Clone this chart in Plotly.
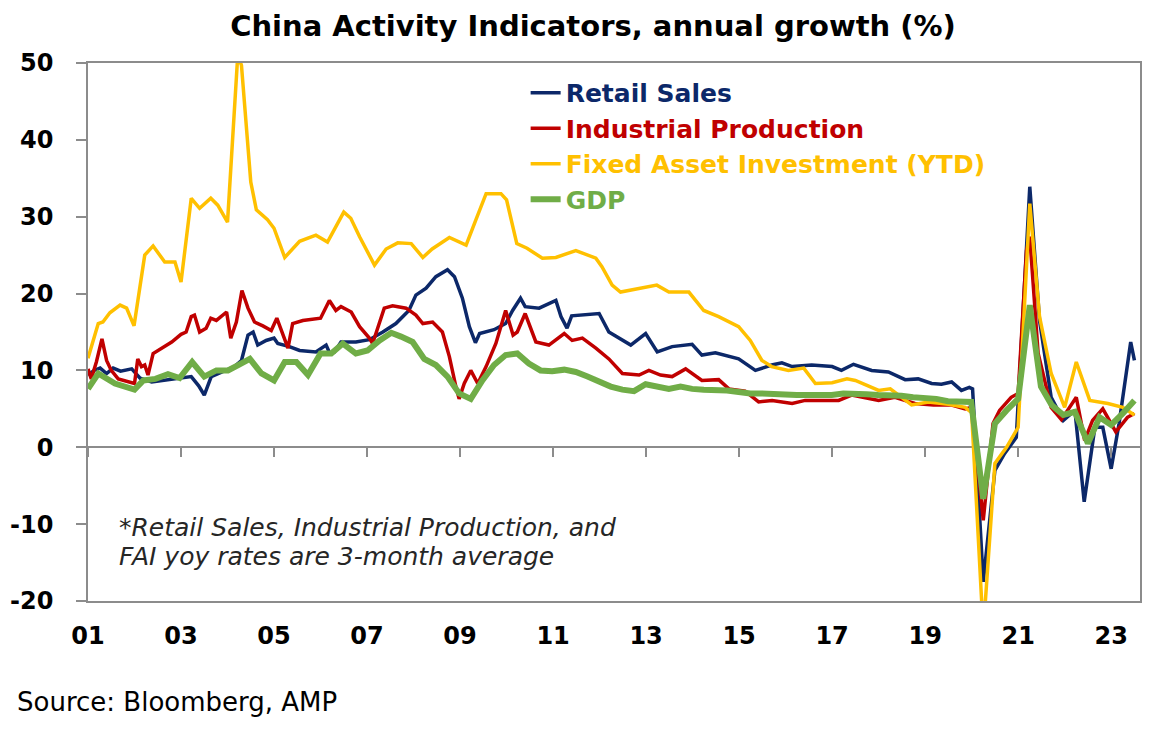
"""China activity indicators, annual growth (%)."""
import plotly.graph_objects as go

FONT = "DejaVu Sans"

# decimal years
retail_x = [
    2001.0, 2001.13, 2001.26, 2001.4, 2001.54, 2001.7, 2001.94, 2002.12, 2002.37, 2002.65,
    2002.94, 2003.22, 2003.38, 2003.5, 2003.65, 2003.94, 2004.15, 2004.3, 2004.44, 2004.55,
    2004.65, 2004.83, 2005.0, 2005.08, 2005.33, 2005.55, 2005.9, 2006.12, 2006.2, 2006.3,
    2006.44, 2006.76, 2007.05, 2007.34, 2007.62, 2007.9, 2008.05, 2008.27, 2008.48, 2008.73,
    2008.88, 2009.05, 2009.2, 2009.33, 2009.42, 2009.73, 2009.98, 2010.13, 2010.3, 2010.4,
    2010.7, 2011.06, 2011.17, 2011.3, 2011.4, 2011.99, 2012.2, 2012.67, 2012.99, 2013.24,
    2013.56, 2013.99, 2014.2, 2014.49, 2014.99, 2015.35, 2015.7, 2015.92, 2016.14, 2016.56,
    2017.0, 2017.2, 2017.46, 2017.85, 2018.21, 2018.57, 2018.85, 2019.14, 2019.35, 2019.57,
    2019.78, 2019.95, 2020.02, 2020.25, 2020.5, 2020.71, 2020.96, 2021.25, 2021.46, 2021.71,
    2021.97, 2022.22, 2022.42, 2022.65, 2022.82, 2023.0, 2023.17, 2023.42, 2023.5,
]
retail_y = [
    9.4, 10.0, 10.3, 9.6, 10.3, 9.9, 10.2, 9.0, 8.5, 8.7,
    9.0, 9.2, 8.0, 6.8, 9.2, 10.0, 10.5, 11.3, 14.6, 15.0,
    13.3, 13.9, 14.2, 13.5, 13.1, 12.6, 12.4, 13.3, 12.2, 12.4,
    13.7, 13.7, 14.0, 15.0, 16.1, 17.8, 19.8, 20.7, 22.2, 23.1,
    22.2, 19.4, 15.7, 13.6, 14.8, 15.3, 16.1, 17.8, 19.4, 18.3,
    18.1, 19.1, 17.0, 15.5, 17.1, 17.4, 15.0, 13.3, 14.8, 12.4,
    13.1, 13.4, 12.0, 12.3, 11.5, 10.0, 10.7, 11.0, 10.5, 10.7,
    10.5, 10.0, 10.8, 10.0, 9.8, 8.8, 8.9, 8.3, 8.2, 8.5,
    7.4, 7.8, 7.6, -17.5, -3.0, -0.8, 1.3, 33.9, 16.5, 6.5,
    3.5, 4.8, -7.1, 2.6, 2.6, -2.8, 3.1, 13.7, 11.3,
]

indprod_x = [
    2001.0, 2001.07, 2001.18, 2001.3, 2001.4, 2001.5, 2001.65, 2001.87, 2002.0, 2002.07,
    2002.15, 2002.22, 2002.29, 2002.4, 2002.58, 2002.8, 2003.0, 2003.11, 2003.22, 2003.29,
    2003.4, 2003.54, 2003.64, 2003.76, 2003.98, 2004.07, 2004.19, 2004.31, 2004.44, 2004.58,
    2004.76, 2004.94, 2005.06, 2005.19, 2005.3, 2005.4, 2005.62, 2006.0, 2006.19, 2006.33,
    2006.44, 2006.66, 2006.84, 2007.05, 2007.12, 2007.37, 2007.55, 2007.84, 2008.05, 2008.2,
    2008.41, 2008.62, 2008.77, 2008.91, 2008.98, 2009.09, 2009.23, 2009.38, 2009.56, 2009.77,
    2009.98, 2010.14, 2010.23, 2010.4, 2010.63, 2010.91, 2011.24, 2011.41, 2011.63, 2011.92,
    2012.2, 2012.49, 2012.85, 2013.06, 2013.31, 2013.56, 2013.85, 2014.2, 2014.56, 2014.78,
    2015.13, 2015.42, 2015.71, 2016.14, 2016.42, 2016.78, 2017.14, 2017.42, 2018.0, 2018.35,
    2018.78, 2019.18, 2019.57, 2019.86, 2020.0, 2020.25, 2020.46, 2020.6, 2020.85, 2021.0,
    2021.18, 2021.25, 2021.43, 2021.71, 2021.93, 2022.25, 2022.43, 2022.6, 2022.82, 2023.1,
    2023.35, 2023.5,
]
indprod_y = [
    10.2, 8.9, 11.1, 14.1, 11.3, 10.0, 8.9, 8.5, 8.3, 11.5,
    10.5, 10.7, 9.4, 12.2, 12.9, 13.7, 14.7, 15.0, 17.0, 17.2,
    15.0, 15.5, 16.8, 16.5, 17.6, 14.2, 16.3, 20.4, 18.1, 16.3,
    15.8, 15.2, 16.8, 14.8, 12.9, 16.1, 16.5, 16.8, 19.1, 17.8,
    18.3, 17.6, 15.7, 14.2, 13.5, 18.1, 18.4, 18.1, 17.2, 16.1,
    16.3, 15.0, 11.8, 7.9, 6.3, 8.3, 10.0, 8.3, 10.5, 13.5,
    17.8, 14.6, 15.0, 17.4, 13.7, 13.3, 14.8, 13.9, 14.2, 12.9,
    11.5, 9.6, 9.4, 10.0, 9.4, 9.2, 10.2, 8.7, 8.8, 7.6,
    7.3, 5.9, 6.1, 5.7, 6.1, 6.1, 6.1, 6.8, 6.1, 6.5,
    5.7, 5.5, 5.5, 5.0, 5.2, -9.5, 3.1, 4.8, 6.5, 7.0,
    25.6, 27.4, 12.2, 5.2, 3.6, 6.5, 0.9, 3.5, 5.0, 2.0,
    3.9, 4.4,
]

fai_x = [
    2001.0, 2001.22, 2001.32, 2001.47, 2001.69, 2001.83, 2001.99, 2002.22, 2002.4, 2002.65,
    2002.87, 2003.0, 2003.22, 2003.4, 2003.64, 2003.79, 2004.0, 2004.22, 2004.3, 2004.5,
    2004.62, 2004.86, 2005.0, 2005.23, 2005.55, 2005.9, 2006.15, 2006.5, 2006.65, 2006.84,
    2007.16, 2007.41, 2007.66, 2007.95, 2008.2, 2008.4, 2008.77, 2009.13, 2009.34, 2009.56,
    2009.88, 2010.0, 2010.22, 2010.44, 2010.77, 2011.06, 2011.49, 2011.92, 2012.05, 2012.27,
    2012.45, 2012.85, 2013.23, 2013.49, 2013.92, 2014.24, 2014.56, 2014.99, 2015.24, 2015.49,
    2015.7, 2016.06, 2016.39, 2016.64, 2017.0, 2017.32, 2017.5, 2018.0, 2018.25, 2018.71,
    2019.07, 2019.5, 2019.86, 2020.0, 2020.25, 2020.5, 2020.75, 2021.0, 2021.25, 2021.46,
    2021.71, 2022.0, 2022.25, 2022.54, 2022.93, 2023.25, 2023.5,
]
fai_y = [
    11.6, 16.1, 16.3, 17.5, 18.5, 18.1, 15.8, 25.0, 26.2, 24.1,
    24.1, 21.5, 32.4, 31.1, 32.4, 31.5, 29.3, 51.0, 49.7, 34.5,
    30.9, 29.6, 28.5, 24.7, 26.8, 27.6, 26.7, 30.6, 29.8, 27.4,
    23.7, 25.8, 26.6, 26.5, 24.7, 25.8, 27.3, 26.3, 29.6, 33.0,
    33.0, 32.2, 26.5, 25.9, 24.6, 24.7, 25.6, 24.6, 23.5, 21.1,
    20.2, 20.7, 21.1, 20.2, 20.2, 17.8, 17.0, 15.7, 13.9, 11.3,
    10.5, 10.0, 10.3, 8.3, 8.4, 8.9, 8.7, 7.4, 7.6, 5.5,
    5.9, 5.6, 5.2, 4.5, -24.0, -2.1, 0.0, 2.6, 31.7, 17.0,
    9.6, 5.2, 11.1, 6.1, 5.7, 5.2, 4.2,
]

gdp_x = [
    2001.0, 2001.22, 2001.58, 2002.0, 2002.19, 2002.45, 2002.72, 2002.97, 2003.24, 2003.5,
    2003.76, 2004.01, 2004.23, 2004.48, 2004.73, 2005.0, 2005.23, 2005.48, 2005.73, 2006.0,
    2006.23, 2006.48, 2006.76, 2007.01, 2007.27, 2007.52, 2007.73, 2007.98, 2008.23, 2008.48,
    2008.73, 2008.98, 2009.23, 2009.48, 2009.73, 2009.98, 2010.23, 2010.48, 2010.73, 2010.98,
    2011.24, 2011.49, 2011.74, 2011.99, 2012.24, 2012.49, 2012.74, 2012.99, 2013.24, 2013.49,
    2013.74, 2013.99, 2014.24, 2014.49, 2014.74, 2014.99, 2015.24, 2015.49, 2015.74, 2015.99,
    2016.24, 2016.49, 2016.74, 2016.99, 2017.24, 2017.49, 2017.74, 2017.99, 2018.24, 2018.49,
    2018.74, 2018.99, 2019.24, 2019.49, 2019.74, 2019.99, 2020.25, 2020.5, 2020.75, 2021.0,
    2021.25, 2021.49, 2021.72, 2021.97, 2022.22, 2022.5, 2022.75, 2023.0, 2023.25, 2023.5,
]
gdp_y = [
    7.6, 9.6, 8.3, 7.5, 8.7, 8.9, 9.5, 9.0, 11.1, 9.2,
    10.0, 10.0, 10.7, 11.5, 9.6, 8.7, 11.1, 11.1, 9.4, 12.2,
    12.2, 13.5, 12.2, 12.6, 13.9, 14.9, 14.4, 13.7, 11.5, 10.7,
    9.2, 7.0, 6.3, 8.7, 10.7, 12.0, 12.2, 10.9, 10.0, 9.9,
    10.1, 9.8, 9.2, 8.5, 7.9, 7.5, 7.3, 8.2, 7.9, 7.6,
    7.9, 7.6, 7.5, 7.5, 7.4, 7.2, 7.0, 7.0, 6.9, 6.8,
    6.8, 6.8, 6.8, 6.8, 7.0, 7.0, 6.9, 6.8, 6.8, 6.7,
    6.5, 6.4, 6.3, 6.0, 6.0, 5.9, -6.7, 3.1, 4.8, 6.3,
    18.5, 7.9, 5.5, 4.2, 4.6, 0.5, 3.9, 2.9, 4.4, 6.1,
]

x_tickvals = list(range(2001, 2024, 2))
x_ticktext = ["01", "03", "05", "07", "09", "11", "13", "15", "17", "19", "21", "23"]
y_tickvals = [-20, -10, 0, 10, 20, 30, 40, 50]
y_ticktext = ["-20", "-10", "0", "10", "20", "30", "40", "50"]

series = [
    ("Retail Sales", retail_x, retail_y, "#0c2869", 3.5),
    ("Industrial Production", indprod_x, indprod_y, "#c00000", 3.5),
    ("Fixed Asset Investment (YTD)", fai_x, fai_y, "#ffc000", 3.5),
    ("GDP", gdp_x, gdp_y, "#70ad47", 6),
]

x_range = [2001.0, 2023.62]
frame = "#8c8c8c"

# the page body adds an 8px margin, so the figure is 8px smaller each way
W, H = 1162, 725

fig = go.Figure()
for name, xs, ys, color, width in series:
    fig.add_trace(go.Scatter(
        x=xs,
        y=ys,
        mode="lines",
        name=f'<span style="color:{color}">{name}</span>',
        line={'color': color, 'width': width},
    ))

# empty trace so the overlaid axis (tick marks on the zero line) gets drawn
fig.add_trace(go.Scatter(
    x=[None], y=[None], xaxis='x2', mode='lines', showlegend=False, hoverinfo='skip'
))

fig.update_layout(
    width=W,
    height=H,
    margin={'l': 80, 'r': 30, 't': 55, 'b': 132, 'autoexpand': False},
    paper_bgcolor="white",
    plot_bgcolor="white",
    font={'family': FONT, 'color': "black"},
    title={
        'text': "China Activity Indicators, annual growth (%)",
        'x': 585 / W,
        'xref': 'container',
        'xanchor': 'center',
        'y': 1 - 18 / H,
        'yanchor': 'middle',
        'font': {'family': FONT, 'size': 29, 'weight': 'bold', 'color': 'black'},
    },
    showlegend=True,
    legend={
        'x': 0.416,
        'y': 0.987,
        'xanchor': 'left',
        'yanchor': 'top',
        'bgcolor': 'rgba(0,0,0,0)',
        'font': {'family': FONT, 'size': 25, 'weight': 'bold'},
        'itemwidth': 30,
        'tracegroupgap': 0,
    },
    xaxis={
        'range': x_range,
        'tickvals': x_tickvals,
        'ticktext': x_ticktext,
        'ticks': '',
        'showgrid': False,
        'zeroline': False,
        'showline': True,
        'mirror': True,
        'linecolor': frame,
        'linewidth': 1.5,
        'automargin': False,
        'tickfont': {'family': FONT, 'size': 24, 'weight': 'bold', 'color': 'black'},
        'ticklabelstandoff': 12,
    },
    # second x axis only to draw the tick marks along the zero line
    xaxis2={
        'range': x_range,
        'overlaying': 'x',
        'anchor': 'free',
        'position': 20 / 70,
        'tickvals': x_tickvals,
        'ticks': 'outside',
        'ticklen': 9,
        'tickwidth': 1.5,
        'tickcolor': frame,
        'showticklabels': False,
        'showline': False,
        'showgrid': False,
        'zeroline': False,
        'automargin': False,
    },
    yaxis={
        'range': [-20, 50],
        'tickvals': y_tickvals,
        'ticktext': y_ticktext,
        'ticks': 'outside',
        'ticklen': 10,
        'tickwidth': 1.5,
        'tickcolor': frame,
        'showgrid': False,
        'zeroline': True,
        'zerolinecolor': frame,
        'zerolinewidth': 1.5,
        'showline': True,
        'mirror': True,
        'linecolor': frame,
        'linewidth': 1.5,
        'automargin': False,
        'tickfont': {'family': FONT, 'size': 24, 'weight': 'bold', 'color': 'black'},
        'ticklabelstandoff': 18,
    },
)

note_font = {'family': FONT, 'size': 25, 'style': 'italic', 'color': '#262626'}
fig.add_annotation(
    text="*Retail Sales, Industrial Production, and",
    xref="paper", yref="paper", x=(117 - 88) / 1052, y=(601 - 527) / 538,
    xanchor="left", yanchor="middle", showarrow=False, font=note_font,
)
fig.add_annotation(
    text="FAI yoy rates are 3-month average",
    xref="paper", yref="paper", x=(117 - 88) / 1052, y=(601 - 556) / 538,
    xanchor="left", yanchor="middle", showarrow=False, font=note_font,
)
fig.add_annotation(
    text="Source: Bloomberg, AMP",
    xref="paper", yref="paper", x=(15 - 88) / 1052, y=(601 - 702) / 538,
    xanchor="left", yanchor="middle", showarrow=False,
    font={'family': FONT, 'size': 26, 'color': 'black'},
)

fig.write_html("out.html")
